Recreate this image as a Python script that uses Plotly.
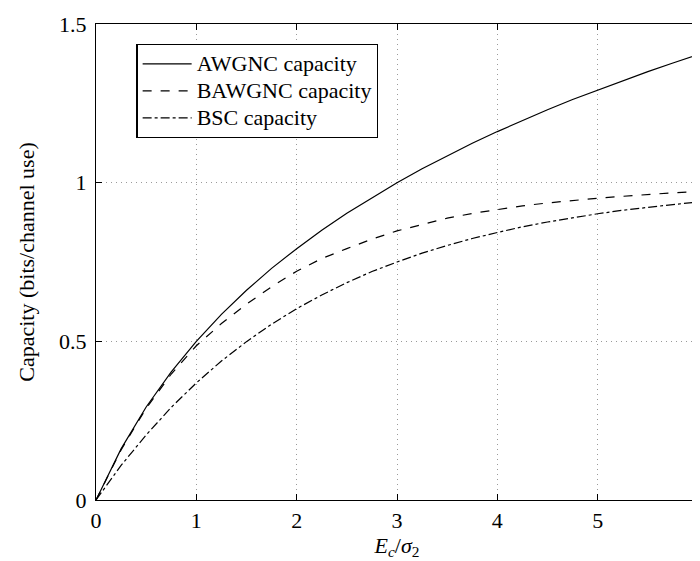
import plotly.graph_objects as go

# E_c/sigma_2 grid
snr = [0, 0.25, 0.5, 0.75, 1, 1.25, 1.5, 1.75, 2, 2.25, 2.5, 2.75, 3,
       3.25, 3.5, 3.75, 4, 4.25, 4.5, 4.75, 5, 5.25, 5.5, 5.75, 6]

awgnc = [0, 0.161, 0.293, 0.404, 0.500, 0.585, 0.661, 0.730, 0.792, 0.850,
         0.904, 0.953, 1.000, 1.044, 1.085, 1.124, 1.161, 1.196, 1.230,
         1.262, 1.292, 1.322, 1.350, 1.377, 1.404]

bawgnc = [0, 0.158, 0.289, 0.397, 0.486, 0.556, 0.617, 0.672, 0.721, 0.761,
          0.792, 0.822, 0.848, 0.869, 0.888, 0.903, 0.916, 0.927, 0.936,
          0.944, 0.951, 0.957, 0.963, 0.968, 0.972]

bsc = [0, 0.109, 0.205, 0.292, 0.369, 0.438, 0.499, 0.554, 0.603, 0.646,
       0.685, 0.720, 0.750, 0.778, 0.802, 0.824, 0.843, 0.861, 0.876,
       0.890, 0.902, 0.913, 0.923, 0.931, 0.939]

names = ["AWGNC capacity", "BAWGNC capacity", "BSC capacity"]
x_ticks = [0, 1, 2, 3, 4, 5, 6]
y_ticks = [0, 0.5, 1, 1.5]
y_tick_text = ["0", "0.5", "1", "1.5"]

FONT = "Liberation Serif"
FS = 22

fig = go.Figure()
for ys, nm, dash in zip([awgnc, bawgnc, bsc], names, ["solid", "dash", "dashdot"]):
    fig.add_trace(go.Scatter(x=snr, y=ys, mode="lines",
                             name=f'<span style="font-size:{FS}px">{nm}</span>',
                             line=dict(color="black", width=1.2, dash=dash)))

axis_common = dict(
    showline=True, linecolor="black", linewidth=1.3, mirror="ticks",
    ticks="inside", ticklen=6, tickwidth=1, tickcolor="black",
    showgrid=True, gridcolor="#9a9a9a", griddash="1px,4px", gridwidth=1,
    zeroline=False, tickfont=dict(family=FONT, size=FS, color="black"),
    ticklabeloverflow="allow",
)

fig.update_xaxes(range=[0, 6], tickvals=x_ticks, ticktext=[str(v) for v in x_ticks],
                 title=dict(text="<i>E</i><sub><i>c</i></sub>/<i>σ</i><sub>2</sub>",
                            font=dict(family=FONT, size=FS, color="black"), standoff=2),
                 **axis_common)
fig.update_yaxes(range=[0, 1.5], tickvals=y_ticks, ticktext=y_tick_text,
                 ticklabelstandoff=4,
                 title=dict(text="Capacity (bits/channel use)",
                            font=dict(family=FONT, size=FS, color="black"), standoff=18),
                 **axis_common)

fig.update_layout(
    width=700, height=561,
    margin=dict(l=88, r=4, t=13, b=69),
    plot_bgcolor="white", paper_bgcolor="white",
    font=dict(family=FONT, size=FS, color="black"),
    legend=dict(x=0.067, y=0.958, xanchor="left", yanchor="top",
                bordercolor="black", borderwidth=1.3, bgcolor="white",
                font=dict(family=FONT, size=18.5, color="black"),
                tracegroupgap=0, itemwidth=49),
    showlegend=True,
)

fig.write_html("out.html")
